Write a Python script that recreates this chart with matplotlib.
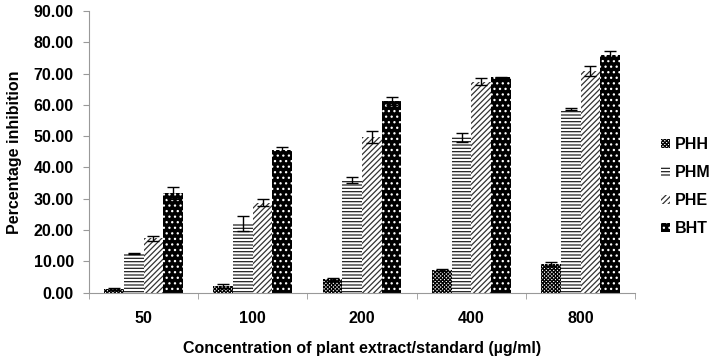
import numpy as np
import matplotlib
matplotlib.use("Agg")
import matplotlib.pyplot as plt

plt.rcParams.update({
    "font.family": ["Liberation Sans", "DejaVu Sans"],
    "font.weight": "bold",
    "font.size": 11.5,
    "hatch.linewidth": 0.9,
})

# ── données ──────────────────────────────────────────────
conc = ["50", "100", "200", "400", "800"]
series = ["PHH", "PHM", "PHE", "BHT"]

phh = [1.1, 2.1, 4.2, 7.2, 9.1]
phm = [12.5, 22.1, 35.9, 49.6, 58.6]
phe = [17.4, 28.8, 49.8, 67.4, 70.9]
bht = [31.8, 45.6, 61.2, 68.8, 75.9]

phh_err = [0.4, 0.6, 0.4, 0.2, 0.6]
phm_err = [0.3, 2.3, 1.0, 1.3, 0.3]
phe_err = [0.8, 1.1, 1.9, 1.1, 1.6]
bht_err = [1.9, 1.0, 1.2, 0.2, 1.3]

values = [phh, phm, phe, bht]
errors = [phh_err, phm_err, phe_err, bht_err]

# style : (fond, hachure, couleur hachure)
styles = [
    ("white", "xxxxxxxxx", "black"),
    ("white", "-----", "#222222"),
    ("white", "//////", "#333333"),
    ("black", "...",   "white"),
]

fig = plt.figure(figsize=(7.17, 3.59), dpi=100)
ax = fig.add_axes([0.124, 0.185, 0.762, 0.784])

x = np.arange(len(conc))
w = 0.18
handles = []
for i, (vals, errs, (fc, hatch, hc)) in enumerate(zip(values, errors, styles)):
    pos = x + (i - 1.5) * w
    b = ax.bar(pos, vals, w, color=fc, hatch=hatch, edgecolor=hc,
               linewidth=0, zorder=2)
    ax.errorbar(pos, vals, yerr=errs, fmt="none", ecolor="black",
                elinewidth=1, capsize=4, capthick=1, zorder=3)
    handles.append(b)

ax.set_ylim(0, 90)
ax.set_yticks(np.arange(0, 91, 10))
ax.set_yticklabels([f"{v:.2f}" for v in np.arange(0, 91, 10)])
ax.set_xlim(-0.5, len(conc) - 0.5)
ax.set_xticks(x)
ax.set_xticklabels(conc)
ax.set_xticks(np.arange(-0.5, len(conc), 1), minor=True)
ax.tick_params(axis="x", which="major", length=0, pad=13)
ax.tick_params(axis="x", which="minor", length=4, color="#999999", direction="out")
ax.tick_params(axis="y", length=4, color="#999999", pad=7)

for s in ["top", "right"]:
    ax.spines[s].set_visible(False)
ax.spines["left"].set_color("#999999")
ax.spines["bottom"].set_color("#999999")

ax.set_ylabel("Percentage inhibition", fontweight="bold", labelpad=8)
ax.set_xlabel("Concentration of plant extract/standard (\u00b5g/ml)",
              fontweight="bold", labelpad=11)

fig.legend(handles, series, loc="center left", bbox_to_anchor=(0.922, 0.48),
           frameon=False, handlelength=0.55, handleheight=0.55,
           handletextpad=0.3, labelspacing=0.82, borderpad=0,
           borderaxespad=0, fontsize=11.5)

fig.savefig("out.png", dpi=100)
